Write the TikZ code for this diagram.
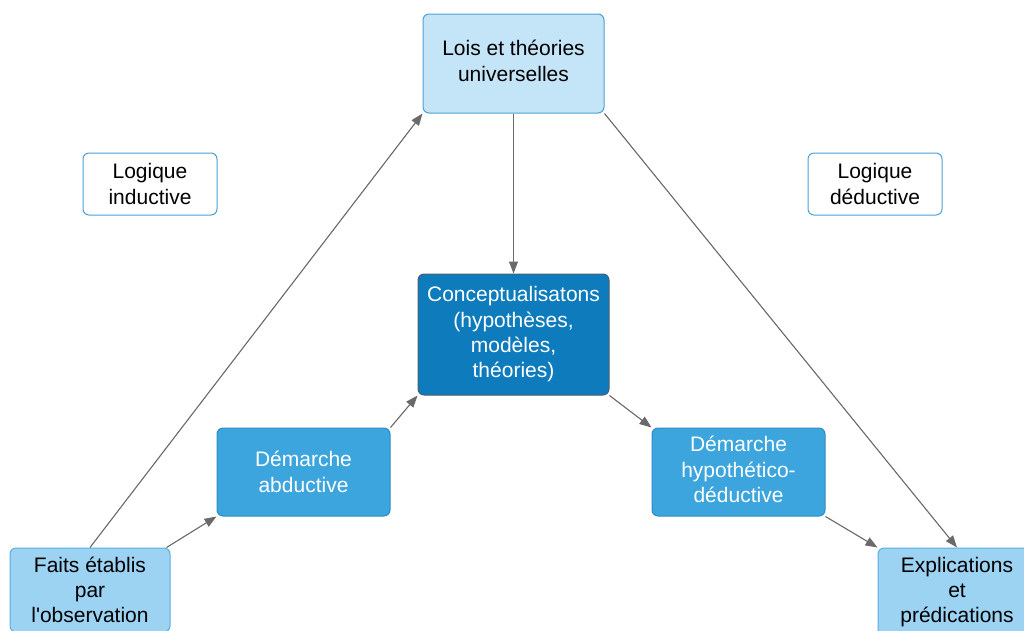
\documentclass[tikz,border=0pt]{standalone}
\usepackage{fontspec}
\setmainfont{Liberation Sans}
\usetikzlibrary{arrows.meta}
\definecolor{paleblue}{HTML}{C4E5F7}
\definecolor{paleedge}{HTML}{4C9FD6}
\definecolor{deepblue}{HTML}{0E7BBD}
\definecolor{deepedge}{HTML}{4A5F70}
\definecolor{midblue}{HTML}{3CA5DD}
\definecolor{midedge}{HTML}{2C8CC6}
\definecolor{skyblue}{HTML}{9CD3F3}
\definecolor{skyedge}{HTML}{5AAEE2}
\definecolor{linkgray}{HTML}{6A6A6A}
% centred lines of text, lifted slightly inside their box
\newcommand{\liftedlines}[2]{\raisebox{#1}{\begin{tabular}{@{}c@{}}#2\end{tabular}}}
\tikzset{
  x=1pt, y=-1pt,
  box/.style={rectangle, rounded corners=6pt, line width=1pt, align=center,
    inner sep=0pt, font=\fontsize{21}{25.3}\selectfont},
  lightbox/.style={box, fill=paleblue, draw=paleedge, text=black},
  notebox/.style={box, fill=white, draw=paleedge, text=black},
  darkbox/.style={box, fill=deepblue, draw=deepedge, text=white},
  stagebox/.style={box, fill=midblue, draw=midedge, text=white},
  endbox/.style={box, fill=skyblue, draw=skyedge, text=black},
  link/.style={draw=linkgray, line width=1.1pt,
    -{Triangle[length=12pt,width=9pt]}, fill=linkgray},
}
\begin{document}
\begin{tikzpicture}
\useasboundingbox (0,0) rectangle (1024,630);
\clip (0,0) rectangle (1024,630);

\node[lightbox, minimum width=181pt, minimum height=99pt] (lois) at (513.5,63.5)
  {\liftedlines{2pt}{Lois et théories\\universelles}};
\node[notebox, minimum width=134pt, minimum height=62pt] (ind) at (150,184)
  {Logique\\inductive};
\node[notebox, minimum width=134pt, minimum height=62pt] (ded) at (875,184)
  {Logique\\déductive};
\node[darkbox, minimum width=191pt, minimum height=121pt] (conc) at (513.5,334.5)
  {Conceptualisatons\\(hypothèses,\\modèles,\\théories)};
\node[stagebox, minimum width=173pt, minimum height=88pt] (abd) at (303.5,472)
  {Démarche\\abductive};
\node[stagebox, minimum width=173pt, minimum height=88pt] (hyp) at (738.5,472)
  {\liftedlines{1.5pt}{Démarche\\hypothético-\\déductive}};
\node[endbox, minimum width=160pt, minimum height=84pt] (faits) at (90,590)
  {Faits établis\\par\\l\textquotesingle observation};
\node[endbox, minimum width=158pt, minimum height=88pt] (expl) at (957,592)
  {Explications\\et\\prédications};

\draw[link] (faits.north) -- (lois.south west);
\draw[link] ([xshift=-4pt]faits.north east) -- (abd.south west);
\draw[link] (abd.north east) -- (conc.south west);
\draw[link] (lois.south) -- (conc.north);
\draw[link] (lois.south east) -- (expl.north);
\draw[link] (conc.south east) -- (hyp.north west);
\draw[link] (hyp.south east) -- (expl.north west);
\end{tikzpicture}
\end{document}
